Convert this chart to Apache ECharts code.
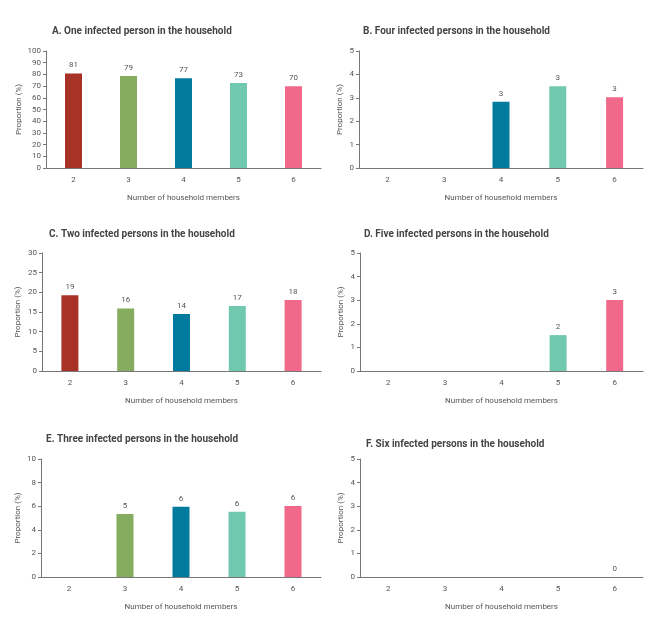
<!DOCTYPE html>
<html><head><meta charset="utf-8">
<script src="https://cdn.jsdelivr.net/npm/echarts@6/dist/echarts.min.js"></script>
<style>html,body{margin:0;padding:0;background:#fff}#c{width:659px;height:621px}</style>
</head><body><div id="c"></div>
<script>
var categories = ['2','3','4','5','6'];
var titles = [
  'A. One infected person in the household',
  'B. Four infected persons in the household',
  'C. Two infected persons in the household',
  'D. Five infected persons in the household',
  'E. Three infected persons in the household',
  'F. Six infected persons in the household'
];
var valuesA = [80.8, 78.7, 76.7, 72.7, 69.8];
var valuesB = [null, null, 2.83, 3.49, 3.02];
var valuesC = [19.25, 15.9, 14.5, 16.5, 18.05];
var valuesD = [null, null, null, 1.52, 3.01];
var valuesE = [null, 5.34, 5.96, 5.54, 6.02];
var valuesF = [null, null, null, null, 0];
var labelsA = ['81','79','77','73','70'];
var labelsB = ['','','3','3','3'];
var labelsC = ['19','16','14','17','18'];
var labelsD = ['','','','2','3'];
var labelsE = ['','5','6','6','6'];
var labelsF = ['','','','','0'];
var yMax = [100, 5, 30, 5, 10, 5];
var yInterval = [10, 1, 5, 1, 2, 1];
var xName = 'Number of household members';
var yName = 'Proportion (%)';
var colors = ['#A83226', '#86AD5F', '#007B9E', '#70C8AE', '#F0688A'];

var allValues = [valuesA, valuesB, valuesC, valuesD, valuesE, valuesF];
var allLabels = [labelsA, labelsB, labelsC, labelsD, labelsE, labelsF];

var grids = [
  {left: 46, top: 51, width: 275, height: 117},
  {left: 359, top: 51, width: 284, height: 117},
  {left: 42, top: 253, width: 279, height: 118},
  {left: 360, top: 253, width: 283, height: 118},
  {left: 41, top: 459, width: 280, height: 118},
  {left: 360, top: 459, width: 283, height: 118}
];
var titlePos = [[47, 21], [358, 21], [44, 224], [359, 224], [41, 429], [361, 434]];
var yNameGaps = [23, 15, 20, 15, 19, 15];

var FONT = 'Roboto, "Noto Sans", sans-serif';
var option = {
  animation: false,
  title: [], grid: [], xAxis: [], yAxis: [], series: []
};
for (var i = 0; i < 6; i++) {
  option.title.push({
    text: titles[i], left: titlePos[i][0], top: titlePos[i][1],
    textStyle: {fontFamily: FONT, fontSize: 10, fontWeight: 'bold', color: '#444'}
  });
  option.grid.push(grids[i]);
  option.xAxis.push({
    type: 'category', gridIndex: i, data: categories,
    name: xName, nameLocation: 'middle', nameGap: 26,
    nameTextStyle: {fontFamily: FONT, fontSize: 8, color: '#555'},
    axisLine: {lineStyle: {color: '#777', width: 1}},
    axisTick: {show: false},
    axisLabel: {fontFamily: FONT, fontSize: 8, color: '#555', margin: 8}
  });
  option.yAxis.push({
    type: 'value', gridIndex: i, min: 0, max: yMax[i], interval: yInterval[i],
    name: yName, nameLocation: 'middle', nameGap: yNameGaps[i], nameRotate: 90,
    nameTextStyle: {fontFamily: FONT, fontSize: 8, color: '#555'},
    axisLine: {show: true, lineStyle: {color: '#777', width: 1}},
    axisTick: {show: true, length: 3, lineStyle: {color: '#777'}},
    axisLabel: {fontFamily: FONT, fontSize: 8, color: '#555', margin: 5},
    splitLine: {show: false}
  });
  (function (idx) {
    option.series.push({
      type: 'bar', xAxisIndex: idx, yAxisIndex: idx, barWidth: 17,
      data: allValues[idx],
      itemStyle: {color: function (p) { return colors[p.dataIndex]; }},
      label: {
        show: true, position: 'top', distance: 4,
        fontFamily: FONT, fontSize: 8, color: '#555',
        formatter: function (p) { return allLabels[idx][p.dataIndex]; }
      }
    });
  })(i);
}
echarts.init(document.getElementById('c')).setOption(option);
</script>
</body></html>
